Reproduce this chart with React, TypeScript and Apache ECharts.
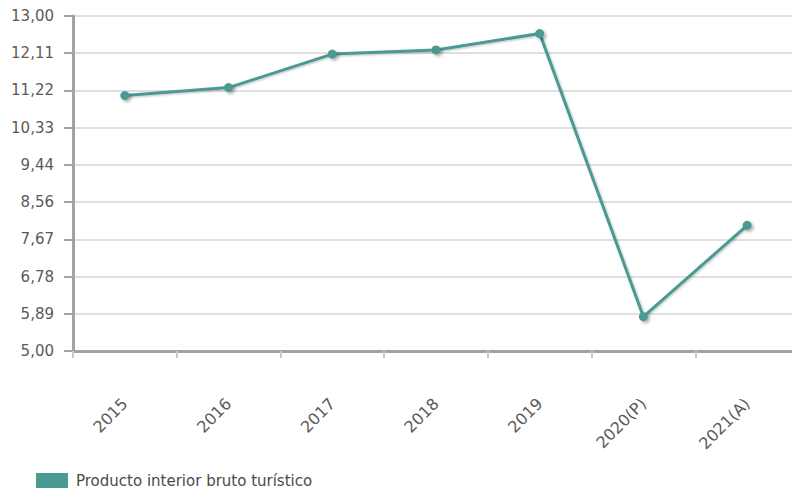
import React, { useEffect, useRef } from "react";
import * as echarts from "echarts";

// Producto interior bruto turístico, por año
const years = ["2015", "2016", "2017", "2018", "2019", "2020(P)", "2021(A)"];
const pibTuristico = [11.1, 11.29, 12.09, 12.19, 12.58, 5.82, 8.0];
const yTicks = [5.0, 5.889, 6.778, 7.667, 8.556, 9.444, 10.333, 11.222, 12.111, 13.0];
const seriesName = "Producto interior bruto turístico";

const TEAL = "#4a9a93";
const AXIS_GRAY = "#a3a3a3";
const LABEL_GRAY = "#5a5a5a";
const FONT = "DejaVu Sans";

export default function App() {
  const ref = useRef<HTMLDivElement>(null);

  useEffect(() => {
    if (!ref.current) return;
    const chart = echarts.init(ref.current, undefined, { renderer: "svg" });
    chart.setOption({
      animation: false,
      backgroundColor: "#ffffff",
      textStyle: { fontFamily: FONT },
      grid: {
        left: 73,
        top: 16,
        right: 1,
        bottom: 137,
        show: true,
        borderColor: AXIS_GRAY,
        borderWidth: 2,
        backgroundColor: "transparent",
      },
      legend: {
        left: 36,
        top: 473,
        padding: 0,
        itemWidth: 32,
        itemHeight: 15,
        icon: "rect",
        textStyle: {
          fontFamily: FONT,
          fontSize: 15,
          color: "#4a4a4a",
          padding: [0, 0, 0, 3],
        },
        data: [{ name: seriesName, itemStyle: { color: TEAL } }],
      },
      xAxis: {
        type: "category",
        data: years,
        boundaryGap: true,
        axisLine: { lineStyle: { color: AXIS_GRAY, width: 3 } },
        axisTick: { show: true, length: 7, lineStyle: { color: "#c8c8c8", width: 2 } },
        axisLabel: {
          rotate: 45,
          margin: 50,
          fontFamily: FONT,
          fontSize: 16,
          color: LABEL_GRAY,
        },
        splitLine: { show: false },
      },
      yAxis: {
        type: "value",
        min: 5,
        max: 13,
        axisLine: { show: true, lineStyle: { color: AXIS_GRAY, width: 3 } },
        axisTick: {
          show: true,
          length: 9,
          customValues: yTicks,
          lineStyle: { color: AXIS_GRAY, width: 2 },
        },
        axisLabel: {
          margin: 19,
          fontFamily: FONT,
          fontSize: 15,
          color: LABEL_GRAY,
          customValues: yTicks,
          formatter: (v: number) => v.toFixed(2).replace(".", ","),
        },
        splitLine: { show: true, lineStyle: { color: "#e0e0e0", width: 2 } },
      },
      series: [
        {
          name: seriesName,
          type: "line",
          data: pibTuristico,
          symbol: "circle",
          symbolSize: 9,
          color: TEAL,
          lineStyle: {
            color: TEAL,
            width: 3,
            shadowColor: "rgba(0,0,0,0.25)",
            shadowBlur: 2,
            shadowOffsetX: 1,
            shadowOffsetY: 1,
          },
          itemStyle: {
            color: TEAL,
            shadowColor: "rgba(0,0,0,0.3)",
            shadowBlur: 3,
            shadowOffsetX: 2,
            shadowOffsetY: 2,
          },
        },
      ],
    });
    return () => chart.dispose();
  }, []);

  // The plot area runs a few pixels past the right edge of the visible frame.
  return (
    <div
      style={{
        position: "fixed",
        left: 0,
        top: 0,
        width: 792,
        height: 488,
        overflow: "hidden",
      }}
    >
      <div ref={ref} style={{ width: 800, height: 488 }} />
    </div>
  );
}
